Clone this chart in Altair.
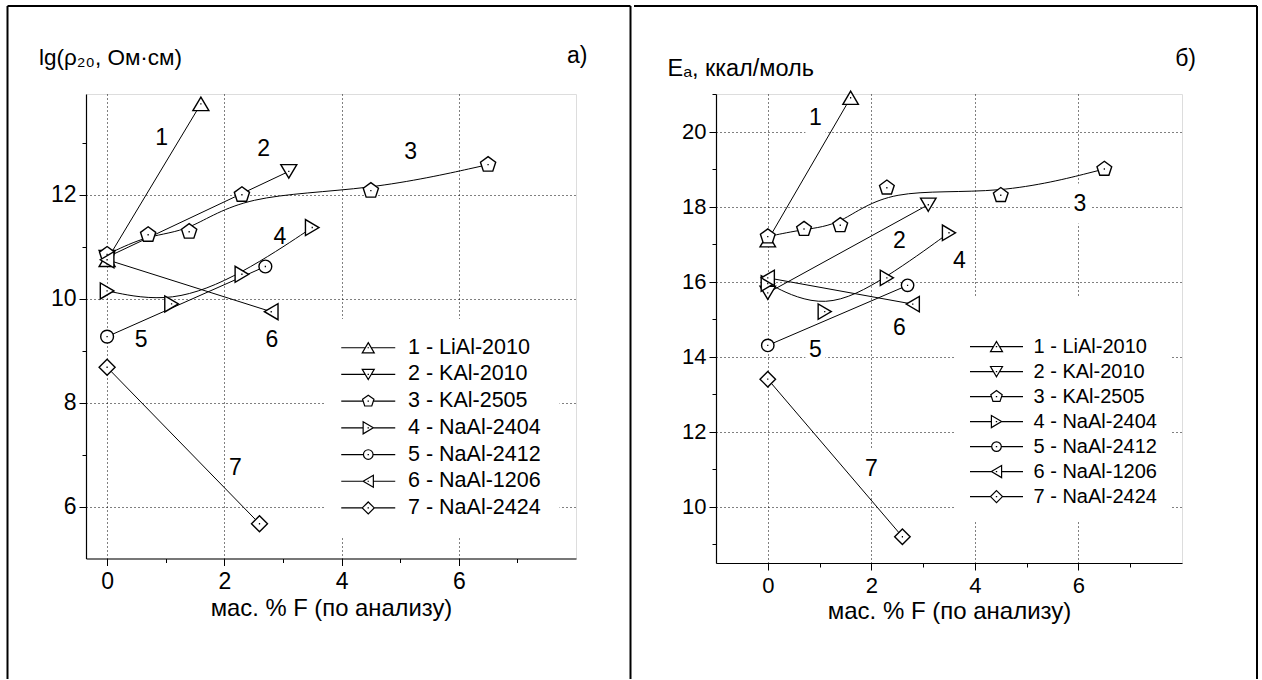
import altair as alt
import pandas as pd

FONT = "Liberation Sans"

series_names = ["1 - LiAl-2010", "2 - KAl-2010", "3 - KAl-2505", "4 - NaAl-2404",
                "5 - NaAl-2412", "6 - NaAl-1206", "7 - NaAl-2424"]

# fluorine content, mass % (by analysis)
f_content = [
    [0, 1.6],
    [0, 3.1],
    [0, 0.7, 1.4, 2.3, 4.5, 6.5],
    [0, 1.1, 2.3, 3.5],
    [0, 2.7],
    [0, 2.8],
    [0, 2.6],
]

# lg of resistivity at 20 C, Ohm*cm
lg_rho = [
    [10.75, 13.75],
    [10.8, 12.45],
    [10.85, 11.23, 11.29, 12.0, 12.08, 12.58],
    [10.15, 9.9, 10.47, 11.37],
    [9.27, 10.62],
    [10.75, 9.75],
    [8.68, 5.67],
]

# activation energy, kcal/mol
e_act = [
    [17.1, 20.9],
    [15.7, 18.05],
    [17.2, 17.4, 17.5, 18.5, 18.3, 19.0],
    [15.95, 15.2, 16.1, 17.3],
    [14.3, 15.9],
    [16.1, 15.4],
    [13.4, 9.2],
]

smooth_series = ["3 - KAl-2505", "4 - NaAl-2404"]

curve_numbers = ["1", "2", "3", "4", "5", "6", "7"]
rho_number_x = [0.93, 2.67, 5.18, 2.95, 0.58, 2.81, 2.19]
rho_number_y = [13.09, 12.89, 12.82, 11.19, 9.2, 9.2, 6.74]
ea_number_x = [0.92, 2.54, 6.03, 3.7, 0.92, 2.54, 2.0]
ea_number_y = [20.37, 17.08, 18.08, 16.56, 14.19, 14.77, 11.0]

x_title = "мас. % F (по анализу)"

# ---- marker outlines (unit box -1..1) ----
OUTLINES = {
    "tri_up": [(0, -0.85), (1, 0.85), (-1, 0.85)],
    "tri_down": [(0, 0.85), (1, -0.85), (-1, -0.85)],
    "pentagon": [(0, -1), (0.951, -0.309), (0.588, 0.809), (-0.588, 0.809), (-0.951, -0.309)],
    "tri_right": [(0.85, 0), (-0.85, -1), (-0.85, 1)],
    "tri_left": [(-0.85, 0), (0.85, -1), (0.85, 1)],
    "diamond": [(0, -1), (1, 0), (0, 1), (-1, 0)],
}
HALF_AT_CENTRE = {"tri_up": 0.5, "tri_down": 0.5, "pentagon": 0.85, "tri_right": 0.85,
                  "circle": 0.8, "tri_left": 0.85, "diamond": 1.0}
marker_kinds = ["tri_up", "tri_down", "pentagon", "tri_right", "circle", "tri_left", "diamond"]


def fmt(v):
    s = f"{v:.3f}".rstrip("0").rstrip(".")
    return "0" if s in ("-0", "") else s


def outline_path(kind, k):
    if kind == "circle":
        r = fmt(0.8 * k)
        return f"M-{r},0A{r},{r} 0 1,0 {r},0A{r},{r} 0 1,0 -{r},0Z"
    pts = OUTLINES[kind]
    return "M" + "L".join(f"{fmt(x * k)},{fmt(y * k)}" for x, y in pts) + "Z"


def marker_path(kind):
    return outline_path(kind, 1.0) + "M-0.08,0L0.08,0"


def legend_path(kind, reach, k):
    e = fmt(HALF_AT_CENTRE[kind] * k)
    r = fmt(reach)
    return (f"M-{r},0L-{e},0M{e},0L{r},0" + outline_path(kind, k) + "M-0.1,0L0.1,0")


EVEN = "datum.value % 2 === 0"


def make_axis(values, tick_font, title_font, **kw):
    return alt.Axis(
        values=values,
        labelExpr=f"{EVEN} ? datum.label : ''",
        labelOverlap=False,
        labelFlush=False,
        tickSize={"condition": {"test": EVEN, "value": 7}, "value": 4},
        tickColor="black", tickWidth=1,
        domainColor="black", domainWidth=1.2,
        grid=True, gridColor="black", gridDash=[1, 3], gridWidth=1,
        gridOpacity={"condition": {"test": EVEN, "value": 1}, "value": 0},
        labelFont=FONT, labelFontSize=tick_font, labelColor="black",
        titleFont=FONT, titleFontSize=title_font, titleFontWeight="normal", titleColor="black",
        **kw,
    )


def panel(ys, num_x, num_y, x_dom, y_dom, y_vals, w, h, y_title, y_title_pos,
          letter, letter_pos, legend_kw, legend_reach, legend_font, tick_font,
          x_title_font, y_title_font, marker_size, frame):
    rows = []
    for name, xs, yv in zip(series_names, f_content, ys):
        for x, y in zip(xs, yv):
            rows.append({"series": name, "x": x, "y": y})
    pts = pd.DataFrame(rows)
    nums = pd.DataFrame({"label": curve_numbers, "x": num_x, "y": num_y})
    one = pd.DataFrame({"k": [0]})

    X = alt.X("x:Q", scale=alt.Scale(domain=x_dom, nice=False, zero=False),
              axis=make_axis(list(range(0, 8)), tick_font, x_title_font, title=x_title,
                             labelPadding=5, titlePadding=3))
    Y = alt.Y("y:Q", scale=alt.Scale(domain=y_dom, nice=False, zero=False),
              axis=make_axis(y_vals, tick_font, y_title_font, title=y_title, titleAngle=0,
                             titleAlign="left", titleBaseline="middle",
                             titleX=y_title_pos[0], titleY=y_title_pos[1],
                             labelPadding=3))

    fx1, fx2, fy1, fy2, left_visible = frame
    frame_layers = [
        alt.Chart(one).mark_rule(color="black", strokeWidth=2).encode(
            x=alt.value(fx1 + (0 if left_visible else 1)), x2=alt.value(fx2), y=alt.value(fy1)),
        alt.Chart(one).mark_rule(color="black", strokeWidth=2).encode(
            x=alt.value(fx2), y=alt.value(fy1), y2=alt.value(fy2)),
    ]
    if left_visible:
        frame_layers.append(alt.Chart(one).mark_rule(color="black", strokeWidth=2).encode(
            x=alt.value(fx1), y=alt.value(fy1), y2=alt.value(fy2)))
    else:
        frame_layers.append(alt.Chart(one).mark_rule(strokeWidth=0, strokeOpacity=0).encode(
            x=alt.value(fx1), y=alt.value(fy1), y2=alt.value(fy2)))

    boxes = alt.Chart(nums).mark_rect(width=20, height=40, color="white").encode(x=X, y=Y)

    straight = alt.Chart(pts).transform_filter(
        alt.FieldOneOfPredicate(field="series", oneOf=[s for s in series_names if s not in smooth_series])
    ).mark_line(color="black", strokeWidth=1).encode(x=X, y=Y, detail="series:N")

    smooth = alt.Chart(pts).transform_filter(
        alt.FieldOneOfPredicate(field="series", oneOf=smooth_series)
    ).mark_line(color="black", strokeWidth=1, interpolate="basis").encode(x=X, y=Y, detail="series:N")

    markers = alt.Chart(pts).mark_point(
        filled=True, fill="white", stroke="black", strokeWidth=1.4, opacity=1, size=marker_size
    ).encode(
        x=X, y=Y,
        shape=alt.Shape("series:N", scale=alt.Scale(domain=series_names,
                                                    range=[marker_path(k) for k in marker_kinds]),
                        legend=None),
    )

    key = alt.Chart(pts).mark_point(opacity=0).encode(
        x=X, y=Y,
        shape=alt.Shape("series:N",
                        scale=alt.Scale(domain=series_names,
                                        range=[legend_path(k, legend_reach, 6 / 7) for k in marker_kinds]),
                        legend=alt.Legend(
                            orient="none", direction="vertical",
                            fillColor="white", symbolSize=196,
                            symbolStrokeColor="black", symbolFillColor="white",
                            symbolStrokeWidth=1.2, symbolOpacity=1,
                            labelFont=FONT, labelFontSize=legend_font, labelColor="black",
                            labelLimit=0,
                            **legend_kw)),
    )

    numbers = alt.Chart(nums).mark_text(font=FONT, fontSize=23, color="black",
                                        baseline="middle").encode(x=X, y=Y, text="label:N")

    tag = alt.Chart(one).mark_text(font=FONT, fontSize=23, color="black", align="right",
                                   baseline="middle").encode(
        x=alt.value(letter_pos[0]), y=alt.value(letter_pos[1]), text=alt.value(letter))

    return alt.layer(*frame_layers, boxes, straight, smooth, markers, key, numbers, tag).resolve_scale(
        shape="independent").properties(width=w, height=h)


left = panel(
    lg_rho, rho_number_x, rho_number_y, [-0.36, 8], [5, 13.94], list(range(6, 14)), 490, 464.5,
    "lg(ρ₂₀, Ом·см)", (-47.5, -37), "а)", (501.5, -38),
    dict(title=None, legendX=238.5, legendY=225, padding=18, rowPadding=3.7,
         symbolOffset=15, labelOffset=29),
    27 / 7, 21.5, 23, 23.8, 22.5, 256,
    (-78.5, 544.5, -88, 585, True),
)

right = panel(
    e_act, ea_number_x, ea_number_y, [-1, 8], [8.5, 21], list(range(9, 22)), 466, 469,
    "Eₐ, ккал/моль", (-49, -26), "б)", (480, -35),
    dict(title=" ", titleFontSize=20, titlePadding=5.6, legendX=239, legendY=202,
         padding=15, rowPadding=5, symbolOffset=16.5, labelOffset=27),
    26.5 / 7, 20, 22, 24, 23.5, 240,
    (-83, 541, -88, 585, False),
)

chart = alt.hconcat(left, right, spacing=0,
                    padding={"left": 6, "top": 4, "right": 0, "bottom": 0}).configure_view(
    stroke="transparent").configure(font=FONT)

chart.save("out.html", embed_options={"renderer": "svg", "actions": False})
